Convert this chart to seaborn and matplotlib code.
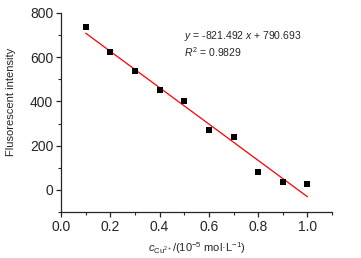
import numpy as np
import pandas as pd
import matplotlib
matplotlib.use('Agg')
import matplotlib.pyplot as plt
from matplotlib.ticker import MultipleLocator
import seaborn as sns

# Cu2+ concentration (10^-5 mol/L) and measured intensity
conc = [0.1, 0.2, 0.3, 0.4, 0.5, 0.6, 0.7, 0.8, 0.9, 1.0]
intensity = [737, 622, 537, 452, 402, 271, 238, 83, 37, 27]

# linear fit reported on the chart
slope = -821.492
intercept = 790.693
r2 = 0.9829

df = pd.DataFrame({'c': conc, 'F': intensity})
fit = pd.DataFrame({'c': [conc[0], conc[-1]]})
fit['F'] = slope * fit['c'] + intercept

sns.set_style('ticks')
plt.rcParams['font.family'] = ['Liberation Sans', 'DejaVu Sans']
plt.rcParams['mathtext.fontset'] = 'custom'
plt.rcParams['mathtext.rm'] = 'Liberation Sans'
plt.rcParams['mathtext.it'] = 'Liberation Sans:italic'

fig = plt.figure(figsize=(3.61, 2.58), dpi=100)
ax = fig.add_axes([0.169, 0.178, 0.751, 0.772])

sns.lineplot(data=fit, x='c', y='F', color='red', linewidth=0.9, ax=ax)
sns.scatterplot(data=df, x='c', y='F', marker='s', s=24, color='black',
                edgecolor='black', linewidth=0, ax=ax, zorder=3)

ax.set_xlim(0, 1.1)
ax.set_ylim(-100, 800)
ax.xaxis.set_major_locator(MultipleLocator(0.2))
ax.xaxis.set_minor_locator(MultipleLocator(0.1))
ax.yaxis.set_major_locator(MultipleLocator(200))
ax.yaxis.set_minor_locator(MultipleLocator(100))
ax.set_xticklabels([f'{v:.1f}' for v in ax.get_xticks()])
ax.tick_params(which='major', length=3.5, width=0.9, labelsize=10, pad=2)
ax.tick_params(which='minor', length=2, width=0.8)
sns.despine(ax=ax)
for s in ['left', 'bottom']:
    ax.spines[s].set_linewidth(0.9)

ax.set_xlabel(r'$c_{\mathrm{Cu}^{2+}}$/(10$^{-5}$ mol·L$^{-1}$)', fontsize=8, labelpad=5)
ax.set_ylabel('Flusorescent intensity', fontsize=8)
ax.yaxis.set_label_coords(-0.166, 0.553)

ax.text(0.5, 696, f'$y$ = {slope} $x$ + {intercept}', fontsize=7.5, va='center')
ax.text(0.5, 624, f'$R^2$ = {r2}', fontsize=7.5, va='center')

fig.savefig('out.png', dpi=100)
